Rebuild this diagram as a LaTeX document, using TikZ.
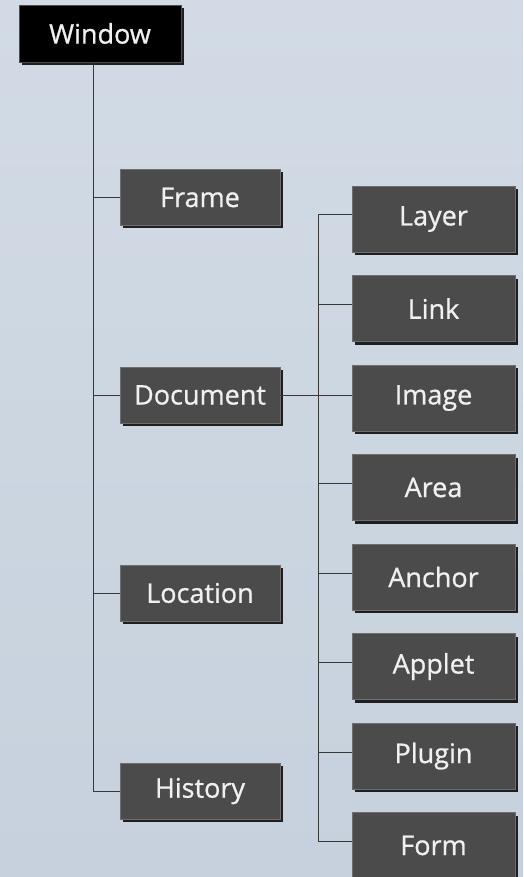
\documentclass[tikz,border=0pt]{standalone}
\usepackage{fontspec}
\setmainfont{Open Sans}
\usetikzlibrary{shadows,calc}
\definecolor{bgtop}{RGB}{210,219,229}
\definecolor{bgbot}{RGB}{198,209,221}
\definecolor{boxfill}{RGB}{75,75,75}
\definecolor{boxedge}{RGB}{110,110,110}
\definecolor{linecol}{RGB}{55,55,55}
\tikzset{
  base/.style={rectangle, text=white!94!black,
    font=\fontsize{27}{30}\selectfont\addfontfeature{FakeBold=0.8},
    inner sep=0pt, line width=0.8pt,
    general shadow={fill=black!88, shadow xshift=3pt, shadow yshift=-3pt}},
  rootbox/.style={base, fill=black, draw=black!70, minimum width=162pt, minimum height=57pt},
  lbox/.style={base, fill=boxfill, draw=boxedge, minimum width=160pt, minimum height=56pt},
  rbox/.style={base, fill=boxfill, draw=boxedge, minimum width=163pt, minimum height=66pt},
  conn/.style={draw=linecol, line width=1pt}
}
\begin{document}
\begin{tikzpicture}[x=1pt,y=-1pt]
\useasboundingbox (0,0) rectangle (523,877);
\shade[top color=bgtop, bottom color=bgbot] (0,0) rectangle (523,877);

\node[rootbox] (win) at (100,33.5) {Window};

\node[lbox] (frame) at (200,197.5) {Frame};
\node[lbox] (doc)   at (200,395)   {Document};
\node[lbox] (loc)   at (200,593)   {Location};
\node[lbox] (hist)  at (200,791)   {History};

\node[rbox] (layer)  at (433.5,219)   {Layer};
\node[rbox] (link)   at (433.5,308.5) {Link};
\node[rbox] (img)    at (433.5,398)   {Image};
\node[rbox] (area)   at (433.5,487.5) {Area};
\node[rbox] (anchor) at (433.5,577)   {Anchor};
\node[rbox] (applet) at (433.5,666.5) {Applet};
\node[rbox] (plugin) at (433.5,756)   {Plugin};
\node[rbox] (form)   at (433.5,845.5) {Form};

% left trunk
\coordinate (t) at ($(win.south west)+(75,0)$);
\draw[conn] (t) |- (hist.west);
\draw[conn] (frame.west) -- (frame.west -| t);
\draw[conn] (doc.west) -- (doc.west -| t);
\draw[conn] (loc.west) -- (loc.west -| t);

% right trunk
\coordinate (r) at ($(doc.east)+(38,0)$);
\coordinate (rl) at ($(layer.west)+(0,-4)$);
\coordinate (rf) at ($(form.west)+(0,-4)$);
\draw[conn] (rl) -- (rl -| r) -- (rf -| r) -- (rf);
\draw[conn] (doc.east) -- (doc.east -| img.west);
\foreach \n in {link,area,anchor,applet,plugin}{
  \draw[conn] ($(\n.west)+(0,-4)$) -- ($(\n.west -| r)+(0,-4)$);
}
\end{tikzpicture}
\end{document}
